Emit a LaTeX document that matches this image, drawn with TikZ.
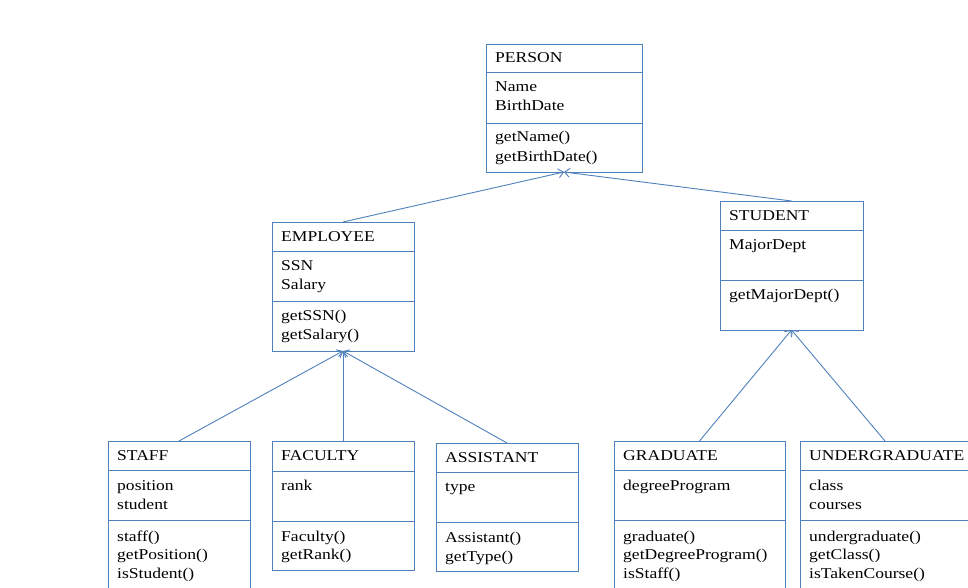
\documentclass[tikz,border=0pt]{standalone}
\usepackage{fontspec}
\setmainfont{Liberation Serif}[FakeStretch=1.17]
\usetikzlibrary{arrows.meta}
\definecolor{umlblue}{RGB}{79,129,189}
\tikzset{
  clsbox/.style={draw=umlblue, line width=0.9pt, inner sep=0pt, outer sep=0pt, anchor=north west},
  divline/.style={draw=umlblue, line width=0.9pt},
  txt/.style={anchor=base west, inner sep=0pt, font=\fontsize{15}{19}\selectfont},
  conn/.style={draw=umlblue, line width=0.9pt, -{Straight Barb[length=5pt,width=9pt,line width=0.9pt]}},
}
\begin{document}
\begin{tikzpicture}[x=1pt,y=-1pt]
\useasboundingbox (0,0) rectangle (968,588);
\clip (0,0) rectangle (968,588);
\fill[white] (0,0) rectangle (968,588);

% PERSON
\node[clsbox, minimum width=156pt, minimum height=128pt] (person) at (486,44) {};
\draw[divline] (486,72) -- (642,72);
\draw[divline] (486,123) -- (642,123);
\node[txt] (p1) at (495,63) {PERSON};
\node[txt] (p2) at (495,92) {Name};
\node[txt] (p3) at (495,111) {BirthDate};
\node[txt] (p4) at (495,142) {getName()};
\node[txt] (p5) at (495,161) {getBirthDate()};

% EMPLOYEE
\node[clsbox, minimum width=142pt, minimum height=129pt] (employee) at (272,222) {};
\draw[divline] (272,251) -- (414,251);
\draw[divline] (272,301) -- (414,301);
\node[txt] (e1) at (281,241) {EMPLOYEE};
\node[txt] (e2) at (281,270) {SSN};
\node[txt] (e3) at (281,289) {Salary};
\node[txt] (e4) at (281,320) {getSSN()};
\node[txt] (e5) at (281,339) {getSalary()};

% STUDENT
\node[clsbox, minimum width=143pt, minimum height=129pt] (student) at (720,201) {};
\draw[divline] (720,230) -- (863,230);
\draw[divline] (720,280) -- (863,280);
\node[txt] (s1) at (729,220) {STUDENT};
\node[txt] (s2) at (729,249) {MajorDept};
\node[txt] (s3) at (729,299) {getMajorDept()};

% STAFF
\node[clsbox, minimum width=142pt, minimum height=160pt] (staff) at (108,441) {};
\draw[divline] (108,470) -- (250,470);
\draw[divline] (108,520) -- (250,520);
\node[txt] (st1) at (117,460) {STAFF};
\node[txt] (st2) at (117,490) {position};
\node[txt] (st3) at (117,509) {student};
\node[txt] (st4) at (117,541) {staff()};
\node[txt] (st5) at (117,559) {getPosition()};
\node[txt] (st6) at (117,578) {isStudent()};

% FACULTY
\node[clsbox, minimum width=142pt, minimum height=129pt] (faculty) at (272,441) {};
\draw[divline] (272,471) -- (414,471);
\draw[divline] (272,521) -- (414,521);
\node[txt] (f1) at (281,460) {FACULTY};
\node[txt] (f2) at (281,490) {rank};
\node[txt] (f3) at (281,541) {Faculty()};
\node[txt] (f4) at (281,559) {getRank()};

% ASSISTANT
\node[clsbox, minimum width=142pt, minimum height=128pt] (assistant) at (436,443) {};
\draw[divline] (436,472) -- (578,472);
\draw[divline] (436,522) -- (578,522);
\node[txt] (a1) at (445,462) {ASSISTANT};
\node[txt] (a2) at (445,491) {type};
\node[txt] (a3) at (445,542) {Assistant()};
\node[txt] (a4) at (445,561) {getType()};

% GRADUATE
\node[clsbox, minimum width=171pt, minimum height=160pt] (graduate) at (614,441) {};
\draw[divline] (614,470) -- (785,470);
\draw[divline] (614,520) -- (785,520);
\node[txt] (g1) at (623,460) {GRADUATE};
\node[txt] (g2) at (623,490) {degreeProgram};
\node[txt] (g3) at (623,541) {graduate()};
\node[txt] (g4) at (623,559) {getDegreeProgram()};
\node[txt] (g5) at (623,578) {isStaff()};

% UNDERGRADUATE
\node[clsbox, minimum width=170pt, minimum height=160pt] (undergrad) at (800,441) {};
\draw[divline] (800,470) -- (970,470);
\draw[divline] (800,520) -- (970,520);
\node[txt] (u1) at (809,460) {UNDERGRADUATE};
\node[txt] (u2) at (809,490) {class};
\node[txt] (u3) at (809,509) {courses};
\node[txt] (u4) at (809,541) {undergraduate()};
\node[txt] (u5) at (809,559) {getClass()};
\node[txt] (u6) at (809,578) {isTakenCourse()};

% connectors
\draw[conn] (employee.north) -- (person.south);
\draw[conn] (student.north) -- (person.south);
\draw[conn] (staff.north) -- (employee.south);
\draw[conn] (faculty.north) -- (employee.south);
\draw[conn] (assistant.north) -- (employee.south);
\draw[conn] (graduate.north) -- (student.south);
\draw[conn] (undergrad.north) -- (student.south);
\end{tikzpicture}
\end{document}
